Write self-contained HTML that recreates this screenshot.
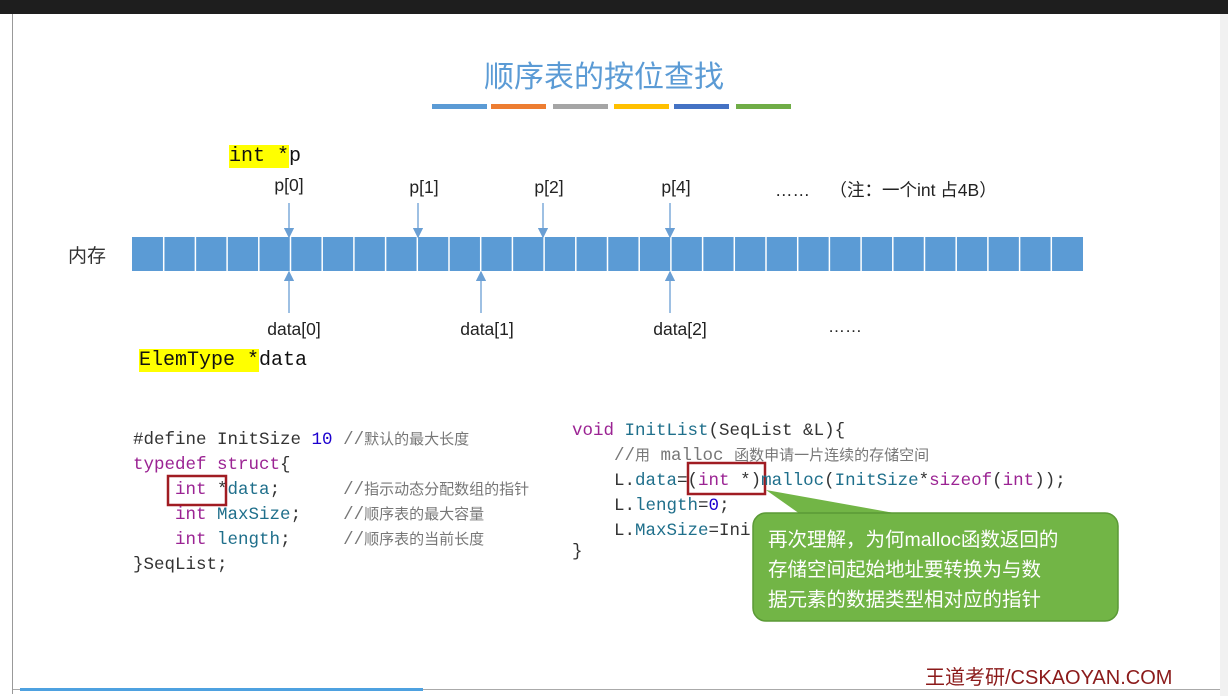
<!DOCTYPE html>
<html><head><meta charset="utf-8"><style>
body{margin:0;width:1228px;height:696px;background:#fff;position:relative;overflow:hidden;font-family:"Liberation Sans","Noto Sans CJK SC",sans-serif}
.a{position:absolute;white-space:pre}
.m{font-family:"Liberation Mono","DejaVu Sans Mono",monospace}
.code{font-size:17.5px;line-height:25px;height:25px;color:#333}
.k{color:#9b2393}.t{color:#1f6f8b}.n{color:#1c00cf}.c{color:#777}
.z{font-family:"Noto Sans CJK SC",sans-serif;font-size:15px;line-height:1}
.lbl{font-size:17.5px;color:#222;transform:translateX(-50%)}
</style></head><body>
<div class="a" style="left:0;top:0;width:1228px;height:14px;background:#1e1e1e"></div>
<div class="a" style="left:12px;top:14px;width:1px;height:680px;background:#999"></div>
<div class="a" style="left:1220px;top:14px;width:8px;height:682px;background:#f1f1f1"></div>
<div class="a" style="left:484px;top:52px;font-size:30px;color:#5b9bd5;font-family:'Noto Sans CJK SC',sans-serif">顺序表的按位查找</div>
<div class="a" style="left:432px;top:104px;width:55px;height:5px;background:#5b9bd5"></div>
<div class="a" style="left:491px;top:104px;width:55px;height:5px;background:#ed7d31"></div>
<div class="a" style="left:553px;top:104px;width:55px;height:5px;background:#a5a5a5"></div>
<div class="a" style="left:614px;top:104px;width:55px;height:5px;background:#ffc000"></div>
<div class="a" style="left:674px;top:104px;width:55px;height:5px;background:#4472c4"></div>
<div class="a" style="left:736px;top:104px;width:55px;height:5px;background:#70ad47"></div>

<div class="a m" style="left:229px;top:142px;height:30px;line-height:30px;font-size:20px;color:#111"><span style="background:#ffff00">int *</span>p</div>
<div class="a m" style="left:139px;top:346px;height:30px;line-height:30px;font-size:20px;color:#111"><span style="background:#ffff00">ElemType *</span>data</div>
<div class="a" style="left:68px;top:241px;font-size:19px;color:#333">内存</div>

<svg class="a" style="left:0;top:0" width="1228" height="696">
<defs><marker id="ar" markerWidth="8" markerHeight="8" refX="7" refY="4" orient="auto"><path d="M0,0 L8,4 L0,8 z" fill="#6a9fd4"/></marker></defs>
<rect x="132" y="237" width="951" height="34" fill="#5b9bd5"/>
<g stroke="#fff" stroke-width="1.5" id="cells"></g>
<g stroke="#6a9fd4" stroke-width="1.3" marker-end="url(#ar)">
<line x1="289" y1="203" x2="289" y2="237"/><line x1="418" y1="203" x2="418" y2="237"/>
<line x1="543" y1="203" x2="543" y2="237"/><line x1="670" y1="203" x2="670" y2="237"/>
<line x1="289" y1="313" x2="289" y2="272"/><line x1="481" y1="313" x2="481" y2="272"/>
<line x1="670" y1="313" x2="670" y2="272"/>
</g>
<path d="M766,490 L800,514 L900,514 Z" fill="#72b546"/>
<rect x="753" y="513" width="365" height="108" rx="13" fill="#72b546" stroke="#5b9a36" stroke-width="1.5"/>
<rect x="168" y="476" width="58" height="29" fill="none" stroke="#a01c22" stroke-width="2.5"/>
<rect x="688" y="463" width="77" height="31" fill="none" stroke="#a01c22" stroke-width="2.5"/>
</svg>
<script>
var g=document.getElementById('cells'),s='';for(var k=1;k<30;k++){var x=132+k*31.7;s+='<line x1="'+x+'" y1="237" x2="'+x+'" y2="271"/>';}g.innerHTML=s;
</script>

<div class="a lbl" style="left:289px;top:175px">p[0]</div>
<div class="a lbl" style="left:424px;top:177px">p[1]</div>
<div class="a lbl" style="left:549px;top:177px">p[2]</div>
<div class="a lbl" style="left:676px;top:177px">p[4]</div>
<div class="a" style="left:775px;top:177px;font-size:17.5px;color:#222">……    （注：一个int 占4B）</div>
<div class="a lbl" style="left:294px;top:319px">data[0]</div>
<div class="a lbl" style="left:487px;top:319px">data[1]</div>
<div class="a lbl" style="left:680px;top:319px">data[2]</div>
<div class="a" style="left:828px;top:317px;font-size:17px;color:#222">……</div>

<div class="a m code" style="left:133px;top:428px">#define InitSize <span class="n">10</span> <span class="c">//<span class="z">默认的最大长度</span></span></div>
<div class="a m code" style="left:133px;top:453px"><span class="k">typedef struct</span>{</div>
<div class="a m code" style="left:133px;top:478px">    <span class="k">int</span> *<span class="t">data</span>;      <span class="c">//<span class="z">指示动态分配数组的指针</span></span></div>
<div class="a m code" style="left:133px;top:503px">    <span class="k">int</span> <span class="t">MaxSize</span>;    <span class="c">//<span class="z">顺序表的最大容量</span></span></div>
<div class="a m code" style="left:133px;top:528px">    <span class="k">int</span> <span class="t">length</span>;     <span class="c">//<span class="z">顺序表的当前长度</span></span></div>
<div class="a m code" style="left:133px;top:553px">}SeqList;</div>

<div class="a m code" style="left:572px;top:419px"><span class="k">void</span> <span class="t">InitList</span>(SeqList &amp;L){</div>
<div class="a m code" style="left:572px;top:444px">    <span class="c">//<span class="z">用</span> malloc <span class="z">函数申请一片连续的存储空间</span></span></div>
<div class="a m code" style="left:572px;top:469px">    L.<span class="t">data</span>=(<span class="k">int</span> *)<span class="t">malloc</span>(<span class="t">InitSize</span>*<span class="k">sizeof</span>(<span class="k">int</span>));</div>
<div class="a m code" style="left:572px;top:494px">    L.<span class="t">length</span>=<span class="n">0</span>;</div>
<div class="a m code" style="left:572px;top:519px">    L.<span class="t">MaxSize</span>=Ini</div>
<div class="a m code" style="left:572px;top:540px">}</div>

<div class="a" style="left:768px;top:525px;font-size:19.5px;line-height:30px;color:#fff">再次理解，为何malloc函数返回的
存储空间起始地址要转换为与数
据元素的数据类型相对应的指针</div>

<div class="a" style="left:925px;top:661px;font-size:20px;color:#8b1a1a">王道考研/CSKAOYAN.COM</div>
<div class="a" style="left:13px;top:689px;width:1207px;height:1px;background:#aaa"></div>
<div class="a" style="left:20px;top:688px;width:403px;height:3px;background:#4ea1e0"></div>
</body></html>
